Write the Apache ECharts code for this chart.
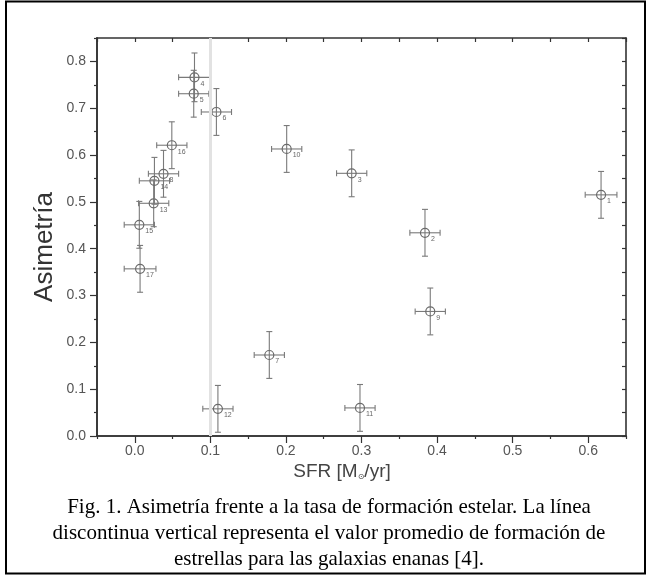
<!DOCTYPE html>
<html><head><meta charset="utf-8">
<script src="https://cdn.jsdelivr.net/npm/echarts@6/dist/echarts.min.js"></script>
<style>html,body{margin:0;padding:0;background:#fff}#c{width:647px;height:575px}</style>
</head><body><div id="c"></div>
<script>
const galaxyIds = ['1','2','3','4','5','6','7','8','9','10','11','12','13','14','15','16','17'];
const sfr      = [0.617,0.384,0.287,0.079,0.078,0.108,0.178,0.038,0.391,0.201,0.298,0.110,0.025,0.026,0.006,0.049,0.007];
const asym     = [0.515,0.434,0.561,0.766,0.731,0.692,0.173,0.560,0.266,0.613,0.060,0.058,0.497,0.545,0.451,0.621,0.357];
const sfrErr   = [0.021,0.020,0.020,0.021,0.020,0.020,0.020,0.020,0.020,0.020,0.020,0.020,0.020,0.020,0.020,0.020,0.021];
const asymErr  = [0.050,0.050,0.050,0.052,0.050,0.050,0.050,0.050,0.050,0.050,0.050,0.050,0.050,0.050,0.050,0.050,0.050];
const xMajorTicks = [0,0.1,0.2,0.3,0.4,0.5,0.6];
const xMinorTicks = [-0.05,0.05,0.15,0.25,0.35,0.45,0.55,0.65];
const yMajorTicks = [0,0.1,0.2,0.3,0.4,0.5,0.6,0.7,0.8];
const yMinorTicks = [0.05,0.15,0.25,0.35,0.45,0.55,0.65,0.75,0.85];
const meanSfr = 0.1;
const xRange = [-0.05, 0.65];
const yRange = [0, 0.85];
const captionLines = [
  'Fig. 1. Asimetría frente a la tasa de formación estelar. La línea',
  'discontinua vertical representa el valor promedio de formación de',
  'estrellas para las galaxias enanas [4].'
];

const AX = '#333';
const allX = xMajorTicks.concat(xMinorTicks);
const allY = yMajorTicks.concat(yMinorTicks);
function baseAxis(extra){
  return Object.assign({type:'value', splitLine:{show:false}, axisLine:{show:true, onZero:false, lineStyle:{color:AX, width:1.6}}}, extra);
}
const chart = echarts.init(document.getElementById('c'), null, {renderer:'canvas'});
const data = sfr.map((x,i)=>[x, asym[i], sfrErr[i], asymErr[i]]);
chart.setOption({
  animation:false,
  backgroundColor:'#fff',
  grid:{left:97, right:21, top:38, bottom:139},
  xAxis:[
    baseAxis({position:'bottom', min:xRange[0], max:xRange[1],
      axisTick:{show:true, inside:false, length:7, customValues:xMajorTicks, lineStyle:{color:AX, width:1.2}},
      axisLabel:{show:true, customValues:xMajorTicks, formatter:v=>v.toFixed(1), color:'#555', fontSize:14, fontFamily:'Liberation Sans', margin:8}}),
    baseAxis({position:'bottom', min:xRange[0], max:xRange[1],
      axisTick:{show:true, inside:false, length:3, customValues:xMinorTicks, lineStyle:{color:AX, width:1.2}},
      axisLabel:{show:false}}),
    baseAxis({position:'top', min:xRange[0], max:xRange[1],
      axisTick:{show:true, inside:true, length:4, customValues:allX, lineStyle:{color:AX, width:1.2}},
      axisLabel:{show:false}})
  ],
  yAxis:[
    baseAxis({position:'left', min:yRange[0], max:yRange[1],
      axisTick:{show:true, inside:false, length:7, customValues:yMajorTicks, lineStyle:{color:AX, width:1.2}},
      axisLabel:{show:true, customValues:yMajorTicks, formatter:v=>v.toFixed(1), color:'#555', fontSize:14, fontFamily:'Liberation Sans', margin:11}}),
    baseAxis({position:'left', min:yRange[0], max:yRange[1],
      axisTick:{show:true, inside:false, length:3, customValues:yMinorTicks, lineStyle:{color:AX, width:1.2}},
      axisLabel:{show:false}}),
    baseAxis({position:'right', min:yRange[0], max:yRange[1],
      axisTick:{show:true, inside:true, length:4, customValues:allY, lineStyle:{color:AX, width:1.2}},
      axisLabel:{show:false}})
  ],
  series:[
    {
      type:'line', data:[], xAxisIndex:0, yAxisIndex:0, silent:true,
      markLine:{symbol:'none', silent:true, label:{show:false},
        lineStyle:{color:'#e2e2e2', width:3, type:'solid'},
        data:[{xAxis:meanSfr}]}
    },
    {
      type:'custom', xAxisIndex:0, yAxisIndex:0, data:data, silent:true,
      renderItem:function(params, api){
        const x=api.value(0), y=api.value(1), ex=api.value(2), ey=api.value(3);
        const c=api.coord([x,y]);
        const l=api.coord([x-ex,y]), r=api.coord([x+ex,y]);
        const t=api.coord([x,y+ey]), b=api.coord([x,y-ey]);
        const cap=3;
        const st={stroke:'#7a7a7a', lineWidth:1.1};
        return {type:'group', children:[
          {type:'line', shape:{x1:l[0],y1:l[1],x2:r[0],y2:r[1]}, style:st},
          {type:'line', shape:{x1:l[0],y1:l[1]-cap,x2:l[0],y2:l[1]+cap}, style:st},
          {type:'line', shape:{x1:r[0],y1:r[1]-cap,x2:r[0],y2:r[1]+cap}, style:st},
          {type:'line', shape:{x1:t[0],y1:t[1],x2:b[0],y2:b[1]}, style:st},
          {type:'line', shape:{x1:t[0]-cap,y1:t[1],x2:t[0]+cap,y2:t[1]}, style:st},
          {type:'line', shape:{x1:b[0]-cap,y1:b[1],x2:b[0]+cap,y2:b[1]}, style:st},
          {type:'circle', shape:{cx:c[0],cy:c[1],r:4.5}, style:{fill:'none', stroke:'#6a6a6a', lineWidth:1.2}},
          {type:'text', x:c[0]+6, y:c[1]+3, style:{text:galaxyIds[params.dataIndex], fill:'#666', fontSize:7, fontFamily:'Liberation Sans', textAlign:'left', textVerticalAlign:'top'}}
        ]};
      }
    }
  ],
  graphic:[
    {type:'rect', shape:{x:6, y:1.5, width:639, height:572}, style:{fill:'none', stroke:'#000', lineWidth:2}, z:100},
    {type:'text', x:45, y:247, rotation:Math.PI/2, style:{text:'Asimetría', fontSize:26, fontFamily:'Liberation Sans', fill:'#333', textAlign:'center', textVerticalAlign:'middle'}},
    {type:'text', x:342, y:472, style:{text:'SFR [M{s|⊙}/yr]', fontSize:19, fontFamily:'Liberation Sans', fill:'#444', textAlign:'center', textVerticalAlign:'middle',
      rich:{s:{fontSize:8, fontFamily:'DejaVu Sans', fill:'#444', padding:[10,0,0,0]}}}},
    {type:'text', x:329, y:507, style:{text:captionLines[0], fontSize:21, fontFamily:'Liberation Serif', fill:'#000', textAlign:'center', textVerticalAlign:'middle'}},
    {type:'text', x:329, y:533, style:{text:captionLines[1], fontSize:21, fontFamily:'Liberation Serif', fill:'#000', textAlign:'center', textVerticalAlign:'middle'}},
    {type:'text', x:329, y:559, style:{text:captionLines[2], fontSize:21, fontFamily:'Liberation Serif', fill:'#000', textAlign:'center', textVerticalAlign:'middle'}}
  ]
});
</script></body></html>
